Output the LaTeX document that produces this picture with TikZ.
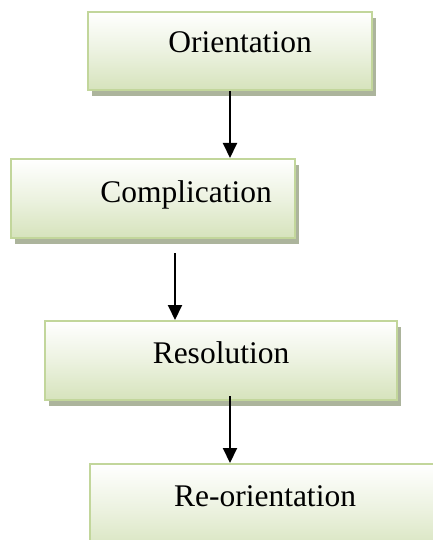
\documentclass[tikz,border=0pt]{standalone}
\usepackage{fontspec}
\setmainfont{Liberation Serif}
\usetikzlibrary{arrows.meta,shadows,calc}

\definecolor{boxedge}{RGB}{194,214,155}
\definecolor{boxlow}{RGB}{214,227,188}
\definecolor{boxmid}{RGB}{236,242,224}
\definecolor{boxshade}{RGB}{172,180,156}

\tikzset{
  stagebox/.style={
    rectangle, draw=boxedge, line width=2pt, inner sep=0pt,
    top color=white, bottom color=boxlow, middle color=boxmid,
    drop shadow={shadow xshift=4pt, shadow yshift=-6pt, fill=boxshade, opacity=1}
  },
  stagelabel/.style={anchor=base, inner sep=0pt,
    font=\fontsize{31.5}{36}\selectfont},
  flow/.style={line width=2pt, -{Triangle[length=15pt,width=14pt]}}
}

\begin{document}
\begin{tikzpicture}[x=1pt,y=-1pt]
  \useasboundingbox (0,0) rectangle (433,540);
  \clip (0,0) rectangle (433,540);

  % the four stages
  \node[stagebox, minimum width=284pt, minimum height=78pt] (b1) at (230,51) {};
  \node[stagebox, minimum width=284pt, minimum height=79pt] (b2) at (153,198.5) {};
  \node[stagebox, minimum width=352pt, minimum height=79pt] (b3) at (221,360.5) {};
  \node[stagebox, minimum width=360pt, minimum height=90pt] (b4) at (270,509) {};

  \node[stagelabel] (t1) at (240,53) {Orientation};
  \node[stagelabel] (t2) at (186,202) {Complication};
  \node[stagelabel] (t3) at (221,363) {Resolution};
  \node[stagelabel] (t4) at (265,506) {Re-orientation};

  % arrows between stages
  \draw[flow] (b1.south) -- (b1.south |- b2.north);
  \draw[flow] ([xshift=22pt,yshift=-14pt]b2.south) -- ([xshift=22pt]b2.south |- b3.north);
  \draw[flow] ([xshift=9pt,yshift=5pt]b3.south) -- ([xshift=9pt]b3.south |- b4.north);
\end{tikzpicture}
\end{document}
